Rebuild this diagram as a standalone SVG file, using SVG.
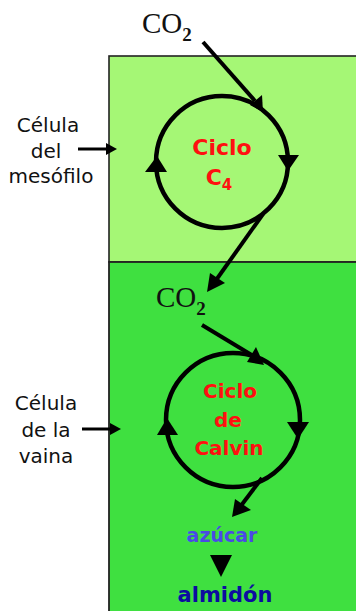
<svg xmlns="http://www.w3.org/2000/svg" width="356" height="611" viewBox="0 0 356 611">
<style>
.lbl{font-family:"DejaVu Sans",sans-serif;font-size:20px;fill:#111;text-anchor:middle}
.co{font-family:"Liberation Serif",serif;font-size:29px;fill:#111}
.sub{font-size:19px;font-weight:bold}
.red{font-family:"DejaVu Sans",sans-serif;font-weight:bold;fill:#ff1010;text-anchor:middle}
.cyc{fill:none;stroke:#000;stroke-width:4.5}
.ln{stroke:#000;stroke-width:4;fill:none}
.ln2{stroke:#000;stroke-width:3;fill:none}
.hd{fill:#000}
</style>
<rect x="0" y="0" width="356" height="611" fill="#fff"/>
<g id="mesofilo-cell">
<rect x="109" y="56" width="252" height="206" fill="#a5f775" stroke="#222" stroke-width="1.6"/>
</g>
<g id="vaina-cell">
<rect x="109" y="262" width="252" height="360" fill="#3fe040" stroke="#222" stroke-width="1.8"/>
</g>
<g id="label-mesofilo">
<text class="lbl" x="48" y="132">Célula</text>
<text class="lbl" x="46" y="158">del</text>
<text class="lbl" x="51" y="183">mesófilo</text>
</g>
<g id="label-vaina">
<text class="lbl" x="46" y="410">Célula</text>
<text class="lbl" x="46" y="437">de la</text>
<text class="lbl" x="46" y="463">vaina</text>
</g>
<g id="co2-top"><text class="co" x="142" y="33">CO<tspan class="sub" dy="8">2</tspan></text></g>
<g id="co2-mid"><text class="co" x="156" y="307">CO<tspan class="sub" dy="8">2</tspan></text></g>
<g id="ciclo-c4">
<circle class="cyc" cx="222" cy="162" r="66"/>
<polygon class="hd" points="278,155 299,155 288,171"/>
<polygon class="hd" points="145,172 167,172 157,156"/>
<text class="red" x="222" y="155" font-size="22">Ciclo</text>
<text class="red" x="219" y="185" font-size="22">C<tspan font-size="15" dy="5">4</tspan></text>
</g>
<g id="ciclo-calvin">
<circle class="cyc" cx="233" cy="420" r="67"/>
<polygon class="hd" points="287,422 309,422 298,439"/>
<polygon class="hd" points="157,435 178,435 167,418"/>
<text class="red" x="230" y="398" font-size="20">Ciclo</text>
<text class="red" x="228" y="427" font-size="20">de</text>
<text class="red" x="229" y="455" font-size="20">Calvin</text>
</g>
<g id="azucar"><text x="222" y="542" font-family="DejaVu Sans,sans-serif" font-weight="bold" font-size="19" fill="#4a4ae6" text-anchor="middle">azúcar</text></g>
<g id="almidon"><text x="225" y="602" font-family="DejaVu Sans,sans-serif" font-weight="bold" font-size="21" fill="#0c0ca0" text-anchor="middle">almidón</text></g>
<g id="connectors">
<line class="ln" x1="203" y1="42" x2="255" y2="101"/>
<polygon class="hd" points="263,112 250,105 262,95"/>
<line class="ln" x1="263" y1="214" x2="214" y2="283"/>
<polygon class="hd" points="207,292 210,273 225,283"/>
<line class="ln" x1="202" y1="325" x2="255" y2="357"/>
<polygon class="hd" points="264,365 247,362 256,347"/>
<line class="ln" x1="262" y1="478" x2="240" y2="507"/>
<polygon class="hd" points="232,517 235,499 251,510"/>
<polygon class="hd" points="210,555 232,555 221,577"/>
<line class="ln2" x1="78" y1="149" x2="108" y2="149"/>
<polygon class="hd" points="117,149 106,143 106,155"/>
<line class="ln2" x1="82" y1="429" x2="112" y2="429"/>
<polygon class="hd" points="121,429 110,423 110,435"/>
</g>
</svg>
